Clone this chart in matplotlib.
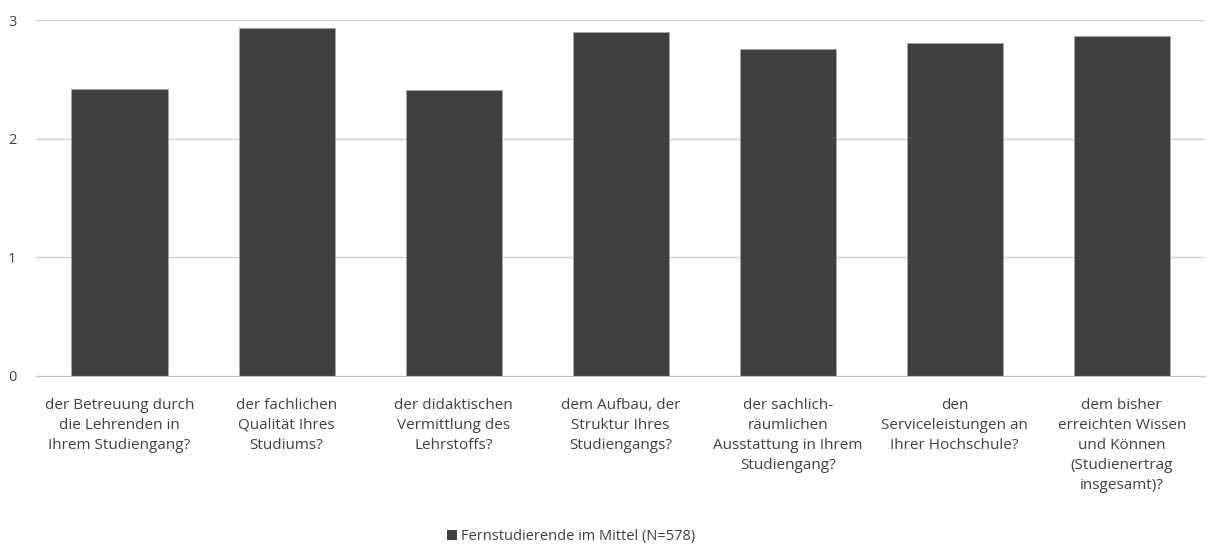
import matplotlib
matplotlib.use("Agg")
import matplotlib.pyplot as plt
from matplotlib.patches import Patch

# Data
categories = [
    "der Betreuung durch\ndie Lehrenden in\nIhrem Studiengang?",
    "der fachlichen\nQualität Ihres\nStudiums?",
    "der didaktischen\nVermittlung des\nLehrstoffs?",
    "dem Aufbau, der\nStruktur Ihres\nStudiengangs?",
    "der sachlich-\nräumlichen\nAusstattung in Ihrem\nStudiengang?",
    "den\nServiceleistungen an\nIhrer Hochschule?",
    "dem bisher\nerreichten Wissen\nund Können\n(Studienertrag\ninsgesamt)?",
]
values = [2.42, 2.93, 2.41, 2.90, 2.76, 2.81, 2.87]
series_name = "Fernstudierende im Mittel (N=578)"
yticks = [0, 1, 2, 3]

plt.rcParams['font.family'] = ['Open Sans', 'DejaVu Sans']

fig = plt.figure(figsize=(12.15, 5.45), dpi=100)
ax = fig.add_axes([0.0296, 0.311, 0.9624, 0.652])

x = list(range(len(values)))
ax.bar(x, values, width=0.575, color="#404040", edgecolor="#a6a6a6",
       linewidth=0.6, zorder=3)

ax.set_xlim(-0.5, len(values) - 0.5)
ax.set_ylim(0, 3)
ax.set_yticks(yticks)
ax.set_yticklabels([str(t) for t in yticks], fontsize=10.5, color="#404040")
ax.yaxis.grid(True, color="#d0d0d0", linewidth=1, zorder=0)
ax.tick_params(axis="y", length=0, pad=14)
ax.tick_params(axis="x", length=0, pad=16)

ax.set_xticks(x)
ax.set_xticklabels(categories, fontsize=11, color="#404040", linespacing=1.45)

for side in ["top", "right", "left"]:
    ax.spines[side].set_visible(False)
ax.spines["bottom"].set_color("#c0c0c0")
ax.spines["bottom"].set_zorder(4)

handle = Patch(facecolor="#404040", edgecolor="none")
fig.legend([handle], [series_name], loc="center", bbox_to_anchor=(0.47, 0.015),
           frameon=False, fontsize=10.5, handlelength=0.7, handleheight=0.7,
           handletextpad=0.3, labelcolor="#404040")

fig.savefig("out.png", dpi=100)
